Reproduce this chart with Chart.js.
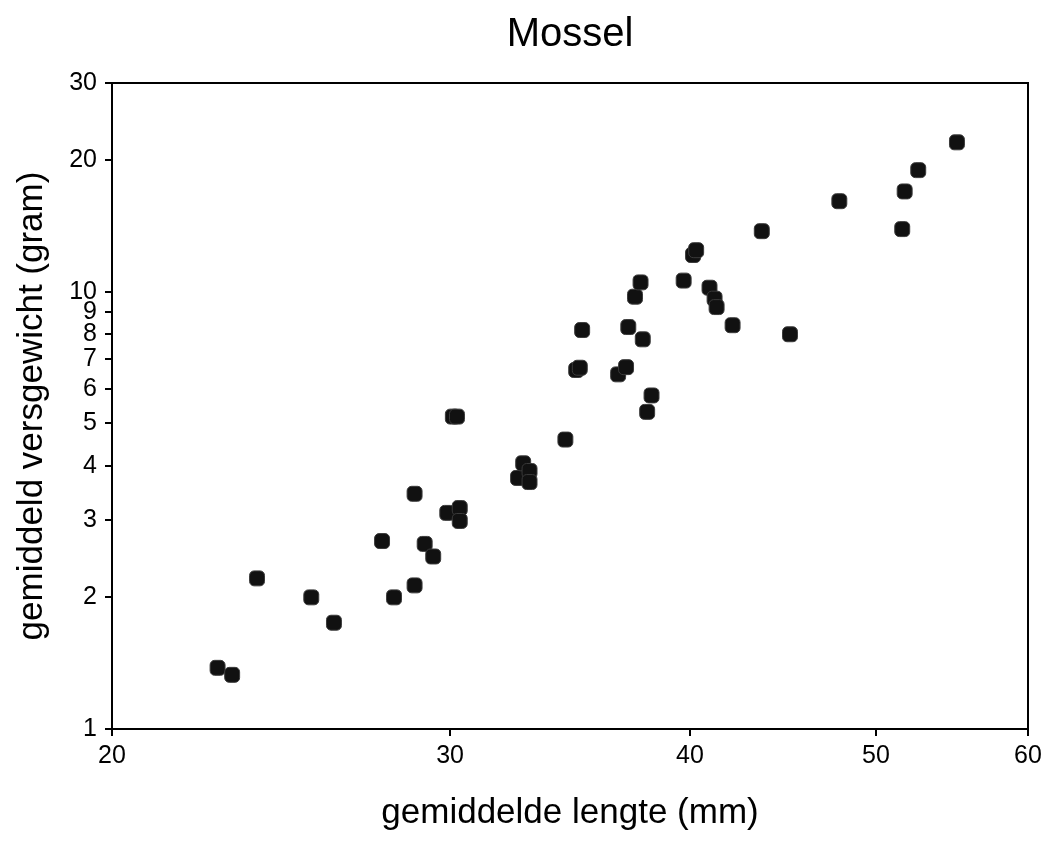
<!DOCTYPE html>
<html>
<head>
<meta charset="utf-8">
<script src="https://cdn.jsdelivr.net/npm/chart.js@4/dist/chart.umd.min.js"></script>
<style>
  html, body { margin: 0; padding: 0; background: #fff; }
</style>
</head>
<body>
<canvas id="mosselChart" width="1049" height="855"></canvas>
<script>
// gemiddelde lengte (mm)
const lengte = [22.7, 23.1, 23.8, 25.4, 26.1, 27.65, 28.05, 28.75, 28.75, 29.1,
    29.4, 29.9, 30.1, 30.25, 30.35, 30.35, 32.55, 32.75, 33.0, 33.0,
    34.45, 34.9, 35.05, 35.15, 36.7, 37.05, 37.15, 37.45, 37.7, 37.8,
    38.0, 38.2, 39.7, 40.15, 40.3, 40.95, 41.2, 41.3, 42.1, 43.6,
    45.1, 47.85, 51.6, 51.75, 52.6, 55.1];
// gemiddeld versgewicht (gram)
const gewicht = [1.38, 1.33, 2.21, 2.0, 1.75, 2.69, 2.0, 3.45, 2.13, 2.65,
    2.48, 3.12, 5.18, 5.18, 3.2, 2.99, 3.75, 4.05, 3.89, 3.67,
    4.59, 6.62, 6.7, 8.17, 6.47, 6.72, 8.3, 9.74, 10.5, 7.78,
    5.31, 5.79, 10.6, 12.13, 12.44, 10.21, 9.64, 9.22, 8.38, 13.75,
    7.99, 16.1, 13.9, 16.95, 18.96, 21.95];

const xTicks = [20, 30, 40, 50, 60];
const yTicks = [1, 2, 3, 4, 5, 6, 7, 8, 9, 10, 20, 30];

const punten = lengte.map(function (l, i) { return { x: l, y: gewicht[i] }; });

// top and right border of the plot box
const kaderPlugin = {
    id: 'kader',
    afterDraw(chart) {
        const a = chart.chartArea;
        const ctx = chart.ctx;
        ctx.save();
        ctx.strokeStyle = '#000';
        ctx.lineWidth = 2;
        ctx.beginPath();
        ctx.moveTo(a.left, a.top);
        ctx.lineTo(a.right, a.top);
        ctx.lineTo(a.right, a.bottom);
        ctx.stroke();
        ctx.restore();
    }
};

Chart.defaults.font.family = '"Liberation Sans", Arial, sans-serif';
Chart.defaults.color = '#000';

new Chart(document.getElementById("mosselChart"), {
    type: "scatter",
    data: {
        datasets: [{
            label: "Mossel",
            data: punten,
            pointStyle: 'rectRounded',
            pointRadius: 8.7,
            pointHoverRadius: 8.7,
            backgroundColor: '#111',
            borderColor: '#3a3a3a',
            borderWidth: 1
        }]
    },
    options: {
        responsive: false,
        animation: false,
        layout: { padding: { left: 0, right: 21, top: 0, bottom: 0 } },
        plugins: {
            legend: { display: false },
            tooltip: { enabled: false },
            title: {
                display: true,
                fullSize: false,
                text: 'Mossel',
                font: { size: 40, weight: 'normal' },
                padding: { top: 11, bottom: 24 }
            }
        },
        scales: {
            x: {
                type: 'logarithmic',
                min: 20,
                max: 60,
                afterBuildTicks: function (scale) {
                    scale.ticks = xTicks.map(function (v) { return { value: v }; });
                },
                afterFit: function (scale) { scale.height = 126; },
                ticks: {
                    font: { size: 25 },
                    padding: 5,
                    autoSkip: false,
                    maxRotation: 0,
                    callback: function (v) { return String(v); }
                },
                grid: { drawOnChartArea: false, tickLength: 7, color: '#000', lineWidth: 2 },
                border: { color: '#000', width: 2 },
                title: {
                    display: true,
                    text: 'gemiddelde lengte (mm)',
                    font: { size: 35 },
                    padding: { top: 0, bottom: 21 }
                }
            },
            y: {
                type: 'logarithmic',
                min: 1,
                max: 30,
                afterBuildTicks: function (scale) {
                    scale.ticks = yTicks.map(function (v) { return { value: v }; });
                },
                afterFit: function (scale) { scale.width = 112; },
                ticks: {
                    font: { size: 25 },
                    padding: 8,
                    autoSkip: false,
                    callback: function (v) { return String(v); }
                },
                grid: { drawOnChartArea: false, tickLength: 7, color: '#000', lineWidth: 2 },
                border: { color: '#000', width: 2 },
                title: {
                    display: true,
                    text: 'gemiddeld versgewicht (gram)',
                    font: { size: 35 },
                    padding: { top: 11, bottom: 0 }
                }
            }
        }
    },
    plugins: [kaderPlugin]
});
</script>
</body>
</html>
